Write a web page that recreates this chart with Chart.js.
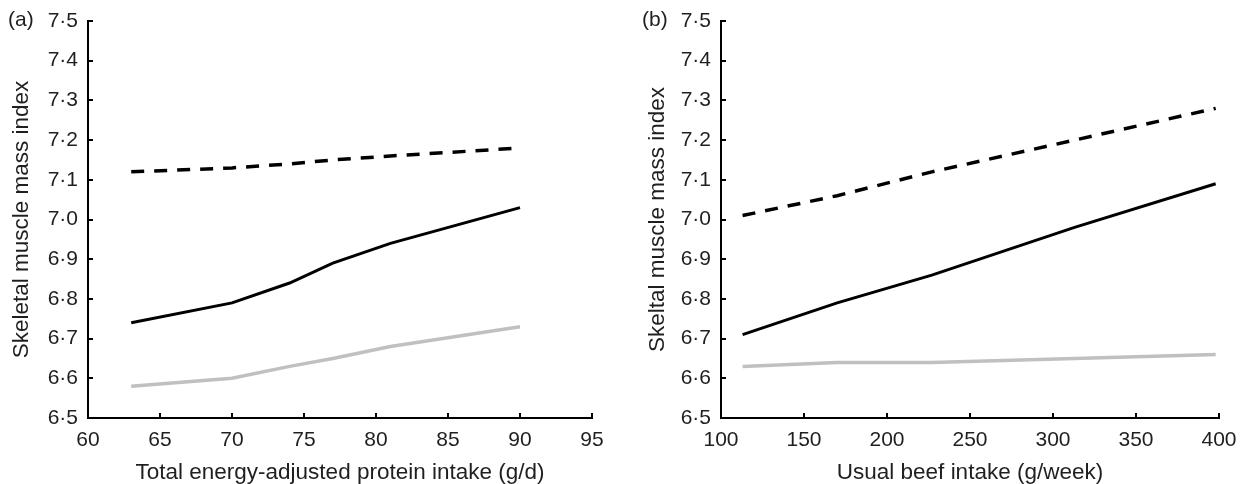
<!DOCTYPE html>
<html>
<head>
<meta charset="utf-8">
<script src="https://cdn.jsdelivr.net/npm/chart.js@4/dist/chart.umd.min.js"></script>
<style>
  html, body { margin: 0; padding: 0; background: #ffffff; }
  #wrap { position: relative; width: 1244px; height: 484px; }
  canvas { position: absolute; top: 0; }
</style>
</head>
<body>
<div id="wrap">
  <canvas id="chartA" width="620" height="484" style="left:0px"></canvas>
  <canvas id="chartB" width="624" height="484" style="left:620px"></canvas>
</div>
<script>
// ---------- data ----------
const yTickValues = [6.5, 6.6, 6.7, 6.8, 6.9, 7.0, 7.1, 7.2, 7.3, 7.4, 7.5];
const yTickLabels = ['6·5', '6·6', '6·7', '6·8', '6·9', '7·0', '7·1', '7·2', '7·3', '7·4', '7·5'];

// Panel (a): total energy-adjusted protein intake (g/d)
const proteinX = [63, 70, 74, 77, 81, 90];
const proteinDashed = [7.12, 7.13, 7.14, 7.15, 7.16, 7.18];
const proteinSolid = [6.74, 6.79, 6.84, 6.89, 6.94, 7.03];
const proteinGrey = [6.58, 6.60, 6.63, 6.65, 6.68, 6.73];
const proteinXTicks = [60, 65, 70, 75, 80, 85, 90, 95];

// Panel (b): usual beef intake (g/week)
const beefX = [113, 170, 227, 313, 398];
const beefDashed = [7.01, 7.06, 7.12, 7.20, 7.28];
const beefSolid = [6.71, 6.79, 6.86, 6.98, 7.09];
const beefGrey = [6.63, 6.64, 6.64, 6.65, 6.66];
const beefXTicks = [100, 150, 200, 250, 300, 350, 400];

const panelLabels = ['(a)', '(b)'];
const yTitles = ['Skeletal muscle mass index', 'Skeltal muscle mass index'];
const xTitles = ['Total energy-adjusted protein intake (g/d)', 'Usual beef intake (g/week)'];

// ---------- helpers ----------
const FONT = "'Liberation Sans', Arial, Helvetica, sans-serif";
const TEXT = '#1f1f1f';
const TICK_FS = 21;
const TITLE_FS = 22.5;

function pts(xs, ys) { return xs.map((x, i) => ({ x: x, y: ys[i] })); }

function panelLabelPlugin(text, x, y) {
  return {
    id: 'panelLabel',
    afterDraw(chart) {
      const ctx = chart.ctx;
      ctx.save();
      ctx.font = TICK_FS + 'px ' + FONT;
      ctx.fillStyle = TEXT;
      ctx.textAlign = 'left';
      ctx.textBaseline = 'middle';
      ctx.fillText(text, x, y);
      ctx.restore();
    }
  };
}

function zeroPad(scale) {
  scale.paddingTop = 0; scale.paddingBottom = 0;
  scale.paddingLeft = 0; scale.paddingRight = 0;
}

function makeChart(id, cfg) {
  const datasets = [
    { data: pts(cfg.x, cfg.dashed), borderColor: '#000000', borderWidth: 3.5, borderDash: [13, 10], borderCapStyle: 'butt' },
    { data: pts(cfg.x, cfg.solid), borderColor: '#000000', borderWidth: 3 },
    { data: pts(cfg.x, cfg.grey), borderColor: '#c0c0c0', borderWidth: 3.5 }
  ].map(d => Object.assign({ pointRadius: 0, pointHoverRadius: 0, tension: 0, fill: false }, d));

  return new Chart(document.getElementById(id), {
    type: 'line',
    data: { datasets: datasets },
    options: {
      responsive: false,
      animation: false,
      devicePixelRatio: 1,
      layout: { padding: { top: 21, right: cfg.padRight, left: 0, bottom: 0 } },
      plugins: { legend: { display: false }, tooltip: { enabled: false } },
      scales: {
        x: {
          type: 'linear',
          min: cfg.xTicks[0],
          max: cfg.xTicks[cfg.xTicks.length - 1],
          afterBuildTicks(scale) { scale.ticks = cfg.xTicks.map(v => ({ value: v })); },
          afterFit(scale) { scale.height = 66; zeroPad(scale); },
          border: { display: true, color: '#000000', width: 2 },
          grid: { drawOnChartArea: false, drawTicks: true, tickLength: -5, color: '#000000', lineWidth: 2 },
          ticks: { padding: 15, color: TEXT, font: { family: FONT, size: TICK_FS }, maxRotation: 0, autoSkip: false,
                   callback: v => String(v) },
          title: { display: true, text: cfg.xTitle, color: TEXT, font: { family: FONT, size: TITLE_FS }, padding: { top: 0, bottom: -2.5 } }
        },
        y: {
          type: 'linear',
          min: 6.5,
          max: 7.5,
          afterBuildTicks(scale) { scale.ticks = yTickValues.map(v => ({ value: v })); },
          afterFit(scale) { scale.width = cfg.yWidth; zeroPad(scale); },
          border: { display: true, color: '#000000', width: 2 },
          grid: { drawOnChartArea: false, drawTicks: true, tickLength: -5, color: '#000000', lineWidth: 2 },
          ticks: { padding: 15, color: TEXT, font: { family: FONT, size: TICK_FS }, autoSkip: false,
                   callback: function (v, i) { return yTickLabels[i]; } },
          title: { display: true, text: cfg.yTitle, color: TEXT, font: { family: FONT, size: TITLE_FS }, padding: { top: cfg.yTitlePad, bottom: 0 } }
        }
      }
    },
    plugins: [panelLabelPlugin(cfg.label, cfg.labelX, 20)]
  });
}

makeChart('chartA', {
  x: proteinX, dashed: proteinDashed, solid: proteinSolid, grey: proteinGrey,
  xTicks: proteinXTicks, xTitle: xTitles[0], yTitle: yTitles[0],
  yWidth: 88, padRight: 28, yTitlePad: 8, label: panelLabels[0], labelX: 8
});

makeChart('chartB', {
  x: beefX, dashed: beefDashed, solid: beefSolid, grey: beefGrey,
  xTicks: beefXTicks, xTitle: xTitles[1], yTitle: yTitles[1],
  yWidth: 101, padRight: 25, yTitlePad: 24, label: panelLabels[1], labelX: 22
});
</script>
</body>
</html>
